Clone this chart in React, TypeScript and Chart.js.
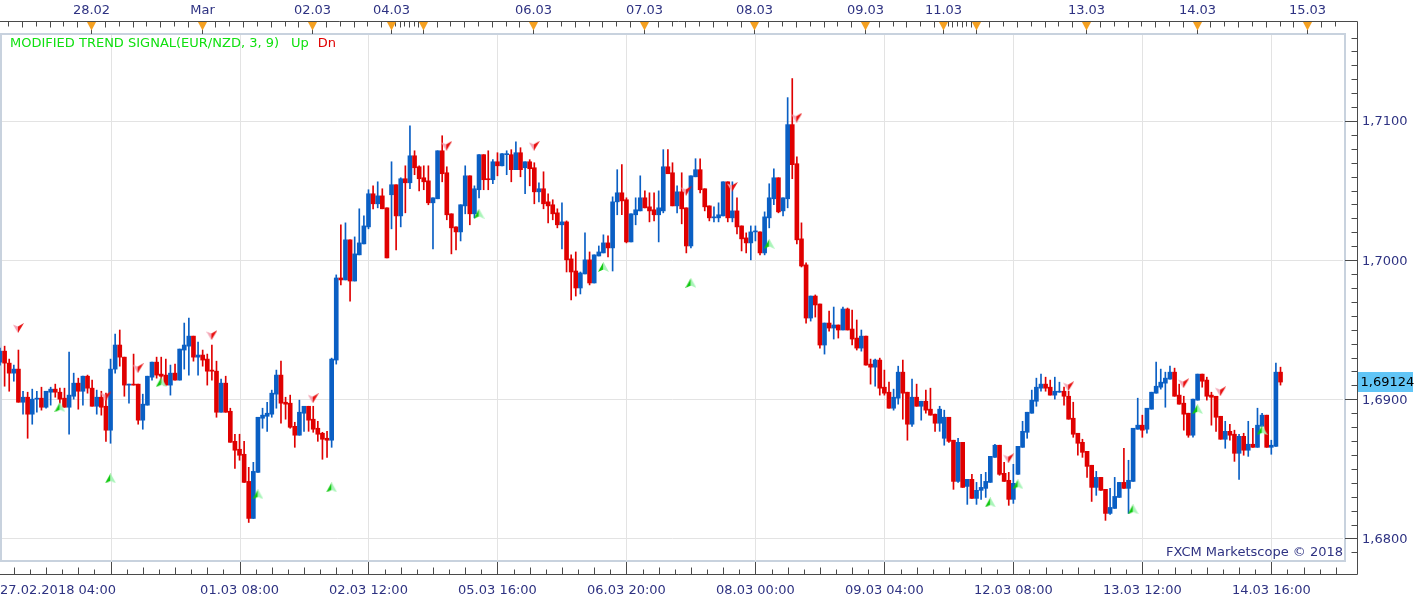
import React, { useEffect, useRef } from 'react';
import { Chart, registerables } from 'chart.js';

Chart.register(...registerables);

const W = 1423;
const H = 604;
const SLOTS = 293;

const openP = [
  1.69267,1.69346,1.69260,1.69188,1.69217,1.68979,1.69015,1.68893,1.69001,1.69008,
  1.68943,1.69051,1.69073,1.69051,1.69008,1.68943,1.69022,1.69116,1.69058,1.69166,
  1.69080,1.68950,1.69015,1.68950,1.68778,1.69217,1.69390,1.69303,1.69102,1.69109,
  1.69109,1.68850,1.68958,1.69159,1.69267,1.69181,1.69174,1.69102,1.69188,1.69138,
  1.69354,1.69382,1.69454,1.69303,1.69318,1.69289,1.69210,1.69202,1.68907,1.69116,
  1.68914,1.68698,1.68641,1.68605,1.68410,1.68144,1.68475,1.68864,1.68878,1.68893,
  1.69037,1.69174,1.68979,1.68972,1.68806,1.68742,1.68900,1.68950,1.68857,1.68792,
  1.68756,1.68720,1.68706,1.69282,1.69872,1.69858,1.70146,1.69850,1.70038,1.70117,
  1.70239,1.70477,1.70405,1.70462,1.70376,1.70470,1.70542,1.70318,1.70585,1.70556,
  1.70750,1.70671,1.70592,1.70570,1.70412,1.70441,1.70786,1.70628,1.70333,1.70239,
  1.70203,1.70390,1.70606,1.70333,1.70506,1.70758,1.70585,1.70578,1.70707,1.70678,
  1.70758,1.70758,1.70650,1.70772,1.70664,1.70707,1.70664,1.70491,1.70513,1.70419,
  1.70398,1.70340,1.70254,1.70275,1.70009,1.69922,1.69800,1.69901,1.70002,1.69836,
  1.70030,1.70052,1.70124,1.70088,1.70419,1.70484,1.70434,1.70131,1.70326,1.70354,
  1.70448,1.70383,1.70362,1.70326,1.70354,1.70671,1.70628,1.70390,1.70491,1.70376,
  1.70102,1.70599,1.70650,1.70513,1.70390,1.70304,1.70304,1.70318,1.70563,1.70304,
  1.70354,1.70246,1.70160,1.70124,1.70203,1.70203,1.70052,1.70304,1.70441,1.70592,
  1.70354,1.70441,1.70974,1.70693,1.70153,1.69966,1.69584,1.69742,1.69685,1.69390,
  1.69548,1.69512,1.69534,1.69498,1.69649,1.69505,1.69440,1.69368,1.69454,1.69253,
  1.69231,1.69282,1.69087,1.69051,1.68936,1.69008,1.69195,1.69051,1.68821,1.69015,
  1.68950,1.68986,1.68929,1.68893,1.68828,1.68720,1.68871,1.68706,1.68410,1.68691,
  1.68374,1.68425,1.68288,1.68346,1.68360,1.68403,1.68583,1.68670,1.68468,1.68418,
  1.68281,1.68461,1.68655,1.68763,1.68900,1.68986,1.69080,1.69109,1.69087,1.69030,
  1.69051,1.69058,1.69022,1.68864,1.68756,1.68691,1.68626,1.68526,1.68367,1.68439,
  1.68353,1.68180,1.68216,1.68295,1.68403,1.68360,1.68410,1.68785,1.68814,1.68785,
  1.68929,1.69044,1.69087,1.69116,1.69145,1.69195,1.69030,1.68972,1.68900,1.68742,
  1.68994,1.69181,1.69138,1.69030,1.69022,1.68878,1.68713,1.68770,1.68749,1.68612,
  1.68734,1.68634,1.68677,1.68655,1.68806,1.68886,1.68655,1.68662,1.69195,
];

const highP = [
  1.69368,1.69382,1.69289,1.69246,1.69354,1.69058,1.69051,1.69073,1.69058,1.69087,
  1.69058,1.69087,1.69109,1.69080,1.69080,1.69339,1.69188,1.69152,1.69166,1.69174,
  1.69138,1.69066,1.69058,1.69044,1.69289,1.69469,1.69498,1.69303,1.69109,1.69325,
  1.69109,1.69037,1.69166,1.69267,1.69303,1.69303,1.69289,1.69246,1.69253,1.69361,
  1.69548,1.69584,1.69454,1.69411,1.69354,1.69325,1.69390,1.69274,1.69145,1.69166,
  1.68936,1.68749,1.68749,1.68698,1.68511,1.68547,1.68871,1.68936,1.68979,1.69066,
  1.69210,1.69274,1.69015,1.69030,1.68835,1.68994,1.68950,1.68950,1.68950,1.68842,
  1.68763,1.68770,1.69296,1.69894,1.70254,1.70268,1.70146,1.70167,1.70369,1.70318,
  1.70506,1.70534,1.70563,1.70513,1.70376,1.70707,1.70542,1.70592,1.70678,1.70966,
  1.70786,1.70678,1.70678,1.70678,1.70448,1.70786,1.70894,1.70671,1.70333,1.70239,
  1.70398,1.70678,1.70606,1.70534,1.70758,1.70758,1.70786,1.70722,1.70772,1.70765,
  1.70786,1.70794,1.70851,1.70808,1.70707,1.70722,1.70700,1.70556,1.70635,1.70477,
  1.70434,1.70369,1.70412,1.70282,1.70038,1.70059,1.69915,1.70196,1.70059,1.70038,
  1.70102,1.70182,1.70174,1.70455,1.70650,1.70686,1.70448,1.70333,1.70448,1.70606,
  1.70498,1.70484,1.70484,1.70498,1.70794,1.70794,1.70700,1.70534,1.70628,1.70376,
  1.70606,1.70729,1.70729,1.70513,1.70390,1.70383,1.70412,1.70563,1.70563,1.70563,
  1.70448,1.70246,1.70196,1.70246,1.70246,1.70203,1.70347,1.70549,1.70657,1.70592,
  1.70448,1.71168,1.71305,1.70743,1.70268,1.69980,1.69742,1.69750,1.69685,1.69548,
  1.69634,1.69663,1.69534,1.69663,1.69656,1.69642,1.69570,1.69498,1.69454,1.69289,
  1.69289,1.69296,1.69210,1.69123,1.69073,1.69238,1.69282,1.69051,1.69145,1.69109,
  1.68986,1.69066,1.69080,1.68893,1.68950,1.68922,1.68871,1.68706,1.68720,1.68691,
  1.68425,1.68461,1.68403,1.68461,1.68475,1.68590,1.68677,1.68670,1.68547,1.68475,
  1.68533,1.68662,1.68842,1.68907,1.69066,1.69152,1.69181,1.69159,1.69138,1.69159,
  1.69123,1.69087,1.69058,1.68979,1.68756,1.68713,1.68626,1.68526,1.68482,1.68439,
  1.68353,1.68360,1.68439,1.68403,1.68648,1.68562,1.68792,1.69008,1.68886,1.68936,
  1.69051,1.69267,1.69217,1.69195,1.69238,1.69224,1.69109,1.69022,1.68900,1.69001,
  1.69181,1.69181,1.69159,1.69051,1.69022,1.68878,1.68842,1.68821,1.68778,1.68749,
  1.68756,1.68842,1.68792,1.68936,1.68900,1.68886,1.68706,1.69260,1.69231,
];

const lowP = [
  1.69246,1.69094,1.69058,1.69130,1.68979,1.68893,1.68720,1.68821,1.68907,1.68922,
  1.68936,1.68958,1.69015,1.68972,1.68943,1.68749,1.69001,1.68929,1.68958,1.69044,
  1.68950,1.68893,1.68886,1.68698,1.68684,1.69188,1.69238,1.69022,1.68972,1.69102,
  1.68821,1.68785,1.68958,1.69138,1.69152,1.69116,1.69102,1.69030,1.69138,1.69138,
  1.69217,1.69174,1.69274,1.69174,1.69238,1.69102,1.69138,1.68871,1.68907,1.68907,
  1.68691,1.68504,1.68562,1.68403,1.68115,1.68144,1.68475,1.68792,1.68770,1.68871,
  1.68936,1.68828,1.68857,1.68792,1.68655,1.68742,1.68770,1.68770,1.68763,1.68698,
  1.68569,1.68583,1.68655,1.69253,1.69822,1.69858,1.69706,1.69850,1.70038,1.70117,
  1.70225,1.70369,1.70376,1.70369,1.70016,1.70225,1.70074,1.70239,1.70340,1.70513,
  1.70614,1.70498,1.70506,1.70398,1.70081,1.70441,1.70563,1.70290,1.70045,1.70074,
  1.70138,1.70333,1.70254,1.70304,1.70448,1.70506,1.70506,1.70549,1.70606,1.70678,
  1.70614,1.70563,1.70650,1.70599,1.70477,1.70534,1.70405,1.70419,1.70369,1.70268,
  1.70290,1.70232,1.70081,1.69915,1.69714,1.69742,1.69757,1.69901,1.69822,1.69836,
  1.70030,1.70052,1.70023,1.69922,1.70326,1.70326,1.70124,1.70131,1.70254,1.70354,
  1.70376,1.70275,1.70282,1.70131,1.70340,1.70621,1.70390,1.70340,1.70261,1.70052,
  1.70088,1.70599,1.70484,1.70354,1.70282,1.70275,1.70275,1.70318,1.70275,1.70275,
  1.70189,1.70066,1.70052,1.70002,1.70138,1.70038,1.70038,1.70232,1.70398,1.70340,
  1.70318,1.70376,1.70585,1.70117,1.69951,1.69548,1.69562,1.69591,1.69368,1.69325,
  1.69490,1.69433,1.69440,1.69498,1.69498,1.69390,1.69354,1.69346,1.69246,1.69109,
  1.69094,1.69030,1.69030,1.68936,1.68922,1.68965,1.68857,1.68706,1.68806,1.68950,
  1.68850,1.68900,1.68886,1.68770,1.68770,1.68670,1.68691,1.68353,1.68403,1.68367,
  1.68245,1.68288,1.68245,1.68281,1.68295,1.68403,1.68583,1.68454,1.68410,1.68238,
  1.68252,1.68461,1.68655,1.68720,1.68900,1.68950,1.69058,1.69058,1.69030,1.69001,
  1.69051,1.68958,1.68857,1.68727,1.68598,1.68583,1.68439,1.68266,1.68310,1.68346,
  1.68130,1.68173,1.68216,1.68295,1.68360,1.68180,1.68410,1.68785,1.68727,1.68756,
  1.68929,1.69044,1.69073,1.68943,1.69145,1.69022,1.68965,1.68778,1.68727,1.68727,
  1.68994,1.69087,1.68994,1.68814,1.68770,1.68713,1.68648,1.68706,1.68554,1.68425,
  1.68598,1.68590,1.68655,1.68655,1.68806,1.68655,1.68605,1.68662,1.69102,
];

const closeP = [
  1.69346,1.69260,1.69188,1.69217,1.68979,1.69015,1.68893,1.69001,1.69008,1.68943,
  1.69058,1.69073,1.69051,1.69001,1.68943,1.69030,1.69116,1.69058,1.69166,1.69080,
  1.68950,1.69015,1.68943,1.68778,1.69217,1.69390,1.69303,1.69102,1.69109,1.69102,
  1.68850,1.68965,1.69166,1.69267,1.69174,1.69166,1.69102,1.69188,1.69138,1.69361,
  1.69390,1.69454,1.69303,1.69318,1.69282,1.69202,1.69202,1.68907,1.69116,1.68907,
  1.68691,1.68634,1.68598,1.68403,1.68144,1.68482,1.68871,1.68886,1.68900,1.69044,
  1.69174,1.68972,1.68965,1.68799,1.68742,1.68907,1.68950,1.68850,1.68785,1.68749,
  1.68713,1.68706,1.69289,1.69872,1.69858,1.70146,1.69850,1.70045,1.70124,1.70246,
  1.70477,1.70405,1.70462,1.70369,1.70016,1.70542,1.70318,1.70585,1.70556,1.70750,
  1.70664,1.70585,1.70563,1.70412,1.70448,1.70786,1.70621,1.70326,1.70232,1.70203,
  1.70398,1.70606,1.70333,1.70513,1.70758,1.70578,1.70578,1.70707,1.70678,1.70765,
  1.70765,1.70650,1.70772,1.70650,1.70707,1.70657,1.70491,1.70513,1.70405,1.70390,
  1.70333,1.70254,1.70275,1.70002,1.69915,1.69800,1.69908,1.70002,1.69836,1.70038,
  1.70059,1.70124,1.70088,1.70419,1.70484,1.70426,1.70131,1.70333,1.70362,1.70448,
  1.70376,1.70354,1.70326,1.70376,1.70671,1.70621,1.70390,1.70491,1.70369,1.70102,
  1.70606,1.70650,1.70506,1.70383,1.70304,1.70311,1.70326,1.70563,1.70304,1.70354,
  1.70239,1.70153,1.70124,1.70203,1.70210,1.70052,1.70311,1.70448,1.70592,1.70347,
  1.70448,1.70974,1.70686,1.70146,1.69958,1.69584,1.69742,1.69678,1.69390,1.69548,
  1.69512,1.69534,1.69498,1.69649,1.69498,1.69433,1.69368,1.69454,1.69246,1.69231,
  1.69282,1.69080,1.69044,1.68936,1.69015,1.69195,1.69044,1.68821,1.69015,1.68950,
  1.68986,1.68922,1.68886,1.68828,1.68929,1.68871,1.68698,1.68410,1.68691,1.68367,
  1.68425,1.68288,1.68346,1.68367,1.68410,1.68590,1.68670,1.68461,1.68410,1.68281,
  1.68396,1.68662,1.68770,1.68907,1.68994,1.69087,1.69109,1.69080,1.69030,1.69058,
  1.69058,1.69022,1.68857,1.68749,1.68684,1.68619,1.68518,1.68367,1.68439,1.68346,
  1.68180,1.68223,1.68302,1.68403,1.68360,1.68418,1.68792,1.68814,1.68778,1.68936,
  1.69051,1.69094,1.69123,1.69152,1.69195,1.69022,1.68965,1.68893,1.68742,1.69001,
  1.69181,1.69130,1.69022,1.69015,1.68871,1.68713,1.68770,1.68742,1.68612,1.68734,
  1.68634,1.68677,1.68655,1.68814,1.68886,1.68655,1.68670,1.69195,1.69124,
];

// indicator signals (candle index, price)
const dnIdx = [4, 23, 30, 46, 68, 97, 116, 149, 159, 173, 219, 232, 257, 265];
const dnPrice = [1.69512, 1.69022, 1.69224, 1.69462, 1.69008, 1.70822, 1.70822, 1.70498, 1.70527, 1.71024, 1.68576, 1.69094, 1.69116, 1.69058];
const upIdx = [13, 24, 35, 56, 72, 104, 131, 150, 167, 215, 221, 246, 260, 274];
const upPrice = [1.68943, 1.68432, 1.69123, 1.68317, 1.68367, 1.70333, 1.69951, 1.69836, 1.70117, 1.68259, 1.68389, 1.68209, 1.68929, 1.68778];

// axes
const gridIdx = [24, 52, 80, 108, 136, 164, 192, 220, 248, 276];
const timeLabels = ['', '01.03 08:00', '02.03 12:00', '05.03 16:00', '06.03 20:00', '08.03 00:00', '09.03 04:00', '12.03 08:00', '13.03 12:00', '14.03 16:00'];
const firstTimeLabel = '27.02.2018 04:00';
const dayIdx = [20, 44, 68, 85, 92, 116, 140, 164, 188, 205, 212, 236, 260, 284];
const dayLabels = ['28.02', 'Mar', '02.03', '04.03', '', '06.03', '07.03', '08.03', '09.03', '11.03', '', '13.03', '14.03', '15.03'];
const priceTicks = [1.68, 1.69, 1.70, 1.71];
const priceLabels = ['1,6800', '1,6900', '1,7000', '1,7100'];
const lastPrice = 1.69124;
const lastPriceLabel = '1,69124';
const Y_MIN = 1.67838;
const Y_MAX = 1.71618;

const UP_COLOR = '#0a5fc4';
const DN_COLOR = '#e00000';
const AXIS_TEXT = '#2e3282';
const AXIS_LINE = '#4a4a4a';
const FONT = '13px "DejaVu Sans", Verdana, sans-serif';

function makeArrow(up: boolean): HTMLCanvasElement {
  const c = document.createElement('canvas');
  c.width = 11;
  c.height = 10;
  const g = c.getContext('2d')!;
  if (up) {
    g.beginPath(); g.moveTo(5.5, 0); g.lineTo(5.5, 7.5); g.lineTo(0, 10); g.closePath();
    g.fillStyle = '#10c810'; g.fill();
    g.beginPath(); g.moveTo(5.5, 0); g.lineTo(11, 10); g.lineTo(5.5, 7.5); g.closePath();
    g.fillStyle = '#a8f5b8'; g.fill();
  } else {
    g.beginPath(); g.moveTo(0, 1.5); g.lineTo(5, 3.5); g.lineTo(5, 10); g.closePath();
    g.fillStyle = '#f4a4b4'; g.fill();
    g.beginPath(); g.moveTo(11, 0); g.lineTo(5, 10); g.lineTo(5, 3.5); g.closePath();
    g.fillStyle = '#e81010'; g.fill();
  }
  return c;
}

function hline(ctx: CanvasRenderingContext2D, x1: number, x2: number, y: number) {
  ctx.beginPath(); ctx.moveTo(x1, y); ctx.lineTo(x2, y); ctx.stroke();
}
function vline(ctx: CanvasRenderingContext2D, x: number, y1: number, y2: number) {
  ctx.beginPath(); ctx.moveTo(x, y1); ctx.lineTo(x, y2); ctx.stroke();
}

const chromePlugin = {
  id: 'chrome',
  beforeDatasetsDraw(chart: any) {
    const { ctx, chartArea: a } = chart;
    const xs = chart.scales.x;
    const ys = chart.scales.y;
    ctx.save();
    // frame
    ctx.strokeStyle = '#c8d2de';
    ctx.lineWidth = 2;
    ctx.strokeRect(a.left + 1, a.top - 1, a.right - a.left - 1, a.bottom - a.top + 1);
    // grid
    ctx.strokeStyle = '#e3e3e3';
    ctx.lineWidth = 1;
    gridIdx.forEach((i) => {
      const px = Math.round(xs.getPixelForValue(i)) + 0.5;
      vline(ctx, px, a.top, a.bottom);
    });
    priceTicks.forEach((p) => {
      const py = Math.round(ys.getPixelForValue(p)) + 0.5;
      hline(ctx, a.left + 2, a.right - 2, py);
    });
    ctx.restore();
  },
  afterDraw(chart: any) {
    const { ctx, chartArea: a } = chart;
    const xs = chart.scales.x;
    const ys = chart.scales.y;
    const axisX = a.right + 12.5;
    const topY = 21.5;
    const botY = 574.5;
    ctx.save();
    ctx.strokeStyle = AXIS_LINE;
    ctx.lineWidth = 1;
    // axis lines
    hline(ctx, 0, axisX, topY);
    hline(ctx, 0, axisX, botY);
    vline(ctx, axisX, topY, botY);

    // top axis ticks
    const topTicks: number[] = [];
    for (let i = -1; i <= 84; i += 3) topTicks.push(i);
    for (let i = 86; i < 92; i += 1) topTicks.push(i);
    for (let i = 92; i <= 203; i += 3) topTicks.push(i);
    for (let i = 206; i < 212; i += 1) topTicks.push(i);
    for (let i = 212; i <= 292; i += 3) topTicks.push(i);
    topTicks.forEach((i, k) => {
      const px = Math.round(xs.getPixelForValue(i)) - 0.5;
      vline(ctx, px, topY, topY + (k % 2 === 0 ? 6 : 5));
    });
    // day markers
    dayIdx.forEach((i, k) => {
      const px = Math.round(xs.getPixelForValue(i)) - 0.5;
      ctx.strokeStyle = AXIS_LINE;
      vline(ctx, px, topY, a.top - 1);
      ctx.fillStyle = '#f5a020';
      ctx.beginPath();
      ctx.moveTo(px - 4.5, topY + 0.5);
      ctx.lineTo(px + 4.5, topY + 0.5);
      ctx.lineTo(px, topY + 9);
      ctx.closePath();
      ctx.fill();
      if (dayLabels[k]) {
        ctx.fillStyle = AXIS_TEXT;
        ctx.font = FONT;
        ctx.textAlign = 'center';
        ctx.textBaseline = 'middle';
        ctx.fillText(dayLabels[k], px, 11);
      }
    });

    // bottom axis ticks
    ctx.strokeStyle = AXIS_LINE;
    for (let k = -6; k <= 76; k++) {
      const v = 24 + 3.5 * k;
      if (v < 0 || v > 292) continue;
      const px = Math.round(xs.getPixelForValue(v)) + 0.5;
      if (k % 8 === 0) vline(ctx, px, a.bottom + 1, botY);
      else vline(ctx, px, botY - (k % 2 === 0 ? 7 : 5), botY);
    }
    // bottom labels
    ctx.fillStyle = AXIS_TEXT;
    ctx.font = FONT;
    ctx.textBaseline = 'middle';
    ctx.textAlign = 'left';
    ctx.fillText(firstTimeLabel, 0, 591);
    ctx.textAlign = 'center';
    gridIdx.forEach((i, k) => {
      if (!timeLabels[k]) return;
      ctx.fillText(timeLabels[k], xs.getPixelForValue(i), 591);
    });

    // right axis ticks
    for (let m = 1679; m <= 1716; m++) {
      const p = m / 1000;
      const py = Math.round(ys.getPixelForValue(p)) + 0.5;
      if (py < a.top || py > a.bottom + 15) continue;
      if (m % 10 === 0) hline(ctx, a.right, axisX, py);
      else hline(ctx, axisX - 6, axisX, py);
    }
    ctx.textAlign = 'left';
    ctx.fillStyle = AXIS_TEXT;
    priceTicks.forEach((p, k) => {
      ctx.fillText(priceLabels[k], axisX + 4.5, ys.getPixelForValue(p) + 1);
    });
    // last price box
    const lp = ys.getPixelForValue(lastPrice);
    ctx.fillStyle = '#61c5f6';
    ctx.fillRect(axisX + 0.5, Math.round(lp) - 10, 55, 20);
    ctx.fillStyle = '#000000';
    ctx.fillText(lastPriceLabel, axisX + 3, lp + 1);

    // indicator legend
    ctx.textBaseline = 'middle';
    ctx.textAlign = 'left';
    const legendMain = 'MODIFIED TREND SIGNAL(EUR/NZD, 3, 9)';
    ctx.fillStyle = '#10e010';
    ctx.fillText(legendMain, 10, 44);
    const upX = 10 + ctx.measureText(legendMain).width + 12;
    ctx.fillText('Up', upX, 44);
    ctx.fillStyle = '#e00000';
    ctx.fillText('Dn', upX + ctx.measureText('Up').width + 9, 44);

    // watermark
    ctx.fillStyle = AXIS_TEXT;
    ctx.textAlign = 'right';
    ctx.fillText('FXCM Marketscope \u00A9 2018', a.right - 2, 553);
    ctx.restore();
  },
};

export default function App() {
  const ref = useRef<HTMLCanvasElement | null>(null);

  useEffect(() => {
    const canvas = ref.current;
    if (!canvas) return;
    const labels = Array.from({ length: SLOTS }, (_, i) => i);
    const colors = closeP.map((c, i) => (c >= openP[i] ? UP_COLOR : DN_COLOR));
    const chart = new Chart(canvas, {
      type: 'bar',
      data: {
        labels,
        datasets: [
          {
            type: 'scatter',
            data: dnIdx.map((x, k) => ({ x, y: dnPrice[k] })),
            pointStyle: makeArrow(false),
            pointRadius: 5,
            order: 0,
          } as any,
          {
            type: 'scatter',
            data: upIdx.map((x, k) => ({ x, y: upPrice[k] })),
            pointStyle: makeArrow(true),
            pointRadius: 5,
            order: 0,
          } as any,
          {
            type: 'bar',
            data: openP.map((o, i) => [o, closeP[i]]),
            backgroundColor: colors,
            borderWidth: 0,
            barThickness: 4,
            minBarLength: 1,
            grouped: false,
            order: 1,
          } as any,
          {
            type: 'bar',
            data: lowP.map((l, i) => [l, highP[i]]),
            backgroundColor: colors,
            borderWidth: 0,
            barThickness: 1,
            minBarLength: 1,
            grouped: false,
            order: 2,
          } as any,
        ],
      },
      options: {
        responsive: false,
        animation: false,
        events: [],
        layout: { autoPadding: false, padding: { left: 0, right: 78, top: 35, bottom: 43 } },
        plugins: { legend: { display: false }, tooltip: { enabled: false } },
        scales: {
          x: { type: 'category', display: false, offset: false, grid: { display: false } },
          y: { type: 'linear', display: false, min: Y_MIN, max: Y_MAX, beginAtZero: false },
        },
      } as any,
      plugins: [chromePlugin],
    });
    return () => chart.destroy();
  }, []);

  return (
    <div style={{ position: 'fixed', left: 0, top: 0, width: W, height: H, background: '#ffffff' }}>
      <canvas ref={ref} width={W} height={H} style={{ display: 'block', width: W, height: H }} />
    </div>
  );
}
